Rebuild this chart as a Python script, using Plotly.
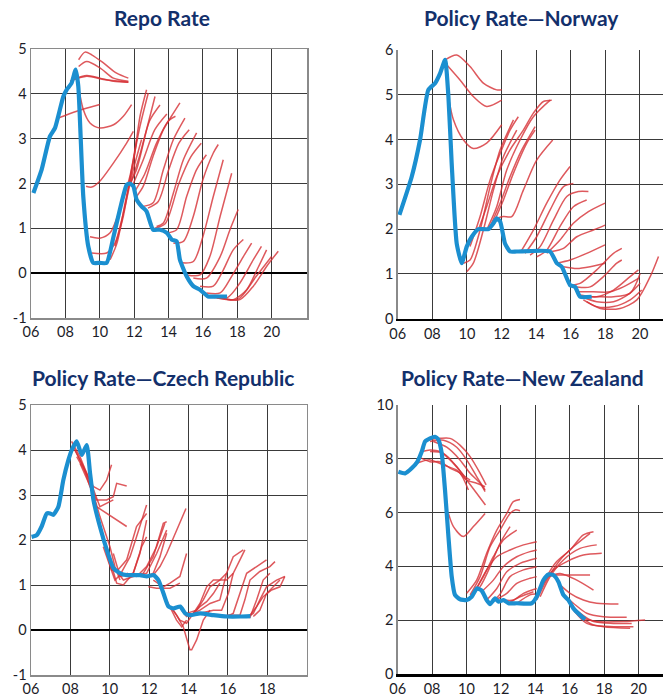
import plotly.graph_objects as go

# ---------------- Repo Rate (Sweden) ----------------
repo_x = [2006.14, 2006.62, 2007.1, 2007.4, 2007.88, 2008.07, 2008.36, 2008.6, 2008.75, 2009.04, 2009.33,
          2009.62, 2010.0, 2010.4, 2010.8, 2011.17, 2011.56, 2011.75, 2011.95, 2012.14, 2012.43, 2012.72,
          2013.1, 2013.5, 2013.9, 2014.18, 2014.47, 2014.66, 2015.05, 2015.44, 2015.83, 2016.3, 2016.8, 2017.4]
repo_y = [1.79, 2.31, 3.05, 3.24, 3.94, 4.09, 4.24, 4.54, 4.17, 1.71, 0.6, 0.23, 0.23, 0.23, 0.82, 1.42,
          1.97, 2.0, 1.94, 1.64, 1.49, 1.38, 0.97, 0.97, 0.9, 0.75, 0.71, 0.30, -0.07, -0.29, -0.37, -0.52,
          -0.52, -0.52]
repo_fc_x = [
    [2008.77, 2009.14, 2009.53, 2010.21, 2010.98, 2011.66],
    [2008.77, 2009.24, 2010.01, 2010.79, 2011.66],
    [2008.46, 2009.24, 2010.01, 2010.79, 2011.66],
    [2008.27, 2009.24, 2010.21, 2011.66],
    [2007.59, 2008.66, 2010.0],
    [2008.69, 2009.04, 2009.43, 2010.0, 2010.8, 2011.37, 2011.85],
    [2009.2, 2009.53, 2010.0, 2010.8, 2011.56, 2011.95],
    [2009.43, 2010.0, 2010.6, 2011.17, 2011.75, 2012.14],
    [2009.53, 2010.4, 2010.88, 2011.37, 2011.95, 2012.43],
    [2010.6, 2011.0, 2011.47, 2011.95, 2012.34, 2012.72],
    [2010.88, 2011.37, 2011.85, 2012.34, 2012.82],
    [2011.76, 2012.14, 2012.72, 2013.21],
    [2012.14, 2012.53, 2013.1, 2013.7, 2014.28, 2014.66],
    [2012.53, 2013.1, 2013.7, 2014.28, 2014.95],
    [2013.3, 2013.7, 2014.28, 2014.86, 2015.63],
    [2013.9, 2014.47, 2015.05, 2015.63, 2016.2],
    [2014.28, 2014.86, 2015.44, 2016.0, 2016.6, 2016.89],
    [2014.76, 2015.44, 2016.0, 2016.6, 2017.18],
    [2015.05, 2015.83, 2016.4, 2017.0, 2017.67],
    [2015.44, 2016.2, 2017.0, 2017.57, 2018.05],
    [2015.83, 2016.6, 2017.18, 2017.76, 2018.35],
    [2016.2, 2017.0, 2017.67, 2018.35, 2018.83],
    [2016.4, 2017.4, 2018.15, 2018.93, 2019.4],
    [2016.8, 2017.76, 2018.54, 2019.2, 2019.7],
    [2017.37, 2018.15, 2018.93, 2019.7, 2020.38],
    [2017.0, 2018.05, 2019.1, 2019.99],
    [2011.8, 2012.3, 2012.9, 2013.5],
    [2011.9, 2012.5, 2013.2, 2013.9],
    [2012.0, 2012.6, 2013.3, 2014.0, 2014.4],
    [2012.8, 2013.4, 2014.0, 2014.6, 2015.2],
    [2013.2, 2013.8, 2014.6, 2015.3, 2015.9],
]
repo_fc_y = [
    [4.76, 4.93, 4.87, 4.69, 4.46, 4.35],
    [4.61, 4.72, 4.58, 4.35, 4.28],
    [4.32, 4.41, 4.35, 4.28, 4.26],
    [4.28, 4.39, 4.32, 4.26],
    [3.46, 3.61, 3.76],
    [4.32, 3.65, 3.35, 3.24, 3.31, 3.5, 3.76],
    [1.94, 1.92, 2.05, 2.46, 2.9, 3.16],
    [0.81, 0.78, 0.9, 1.42, 2.16, 2.98],
    [0.45, 0.45, 0.67, 1.34, 2.31, 2.98],
    [0.3, 0.67, 1.56, 2.46, 3.5, 4.09],
    [0.6, 1.27, 2.31, 3.28, 4.02],
    [2.0, 2.31, 3.2, 3.94],
    [1.71, 1.94, 2.61, 3.2, 3.57, 3.8],
    [1.49, 1.57, 2.31, 2.98, 3.46],
    [1.04, 1.12, 1.79, 2.53, 3.13],
    [0.9, 0.97, 1.71, 2.31, 2.64],
    [0.67, 0.71, 1.27, 2.09, 2.68, 2.87],
    [0.23, 0.26, 0.82, 1.71, 2.53],
    [-0.04, -0.04, 0.37, 1.27, 2.23],
    [-0.11, -0.11, 0.37, 0.97, 1.42],
    [-0.29, -0.29, 0.07, 0.52, 0.75],
    [-0.44, -0.44, -0.07, 0.37, 0.67],
    [-0.52, -0.55, -0.22, 0.3, 0.6],
    [-0.55, -0.59, -0.37, 0.12, 0.52],
    [-0.58, -0.59, -0.29, 0.15, 0.49],
    [-0.55, -0.58, -0.07, 0.37],
    [2.0, 2.6, 3.4, 3.75],
    [1.95, 2.5, 3.2, 3.55],
    [1.8, 2.2, 2.9, 3.4, 3.5],
    [1.45, 1.6, 2.3, 2.9, 3.2],
    [1.0, 1.1, 2.0, 2.6, 2.9],
]

# ---------------- Policy Rate - Norway ----------------
nor_x = [2006.1, 2006.81, 2007.29, 2007.77, 2008.16, 2008.45, 2008.74, 2008.93, 2009.12, 2009.41, 2009.7,
         2009.99, 2010.28, 2010.66, 2011.24, 2011.53, 2011.72, 2011.92, 2012.2, 2012.49, 2012.88, 2014.8,
         2015.19, 2015.48, 2015.96, 2016.25, 2016.54, 2017.21]
nor_y = [2.32, 3.17, 3.99, 5.11, 5.26, 5.48, 5.78, 4.96, 3.47, 1.68, 1.24, 1.61, 1.83, 2.0, 2.0, 2.13, 2.24,
         2.17, 1.68, 1.5, 1.5, 1.5, 1.24, 1.16, 0.75, 0.71, 0.49, 0.49]
nor_fc_x = [
    [2008.74, 2009.41, 2010.18, 2010.95, 2011.72, 2012.01],
    [2008.83, 2009.60, 2010.37, 2011.14, 2012.01],
    [2008.93, 2009.22, 2009.80, 2010.37, 2011.14, 2012.01],
    [2009.80, 2010.18, 2010.76, 2011.34, 2011.92, 2012.69],
    [2009.99, 2010.37, 2010.95, 2011.53, 2012.11, 2012.88],
    [2010.18, 2010.76, 2011.34, 2011.92, 2012.49, 2012.97],
    [2010.66, 2011.14, 2011.72, 2012.49, 2013.26, 2013.84, 2014.42, 2014.90],
    [2011.14, 2011.72, 2012.30, 2013.07, 2013.84, 2014.81],
    [2011.34, 2011.92, 2012.49, 2013.17, 2013.94],
    [2011.53, 2012.11, 2012.69, 2013.46, 2013.94],
    [2011.72, 2012.11, 2012.59, 2013.26, 2014.03, 2014.96],
    [2013.17, 2013.84, 2014.61, 2015.38, 2015.96],
    [2013.36, 2014.03, 2014.81, 2015.58, 2016.15],
    [2013.65, 2014.23, 2015.00, 2015.77, 2016.44, 2017.02],
    [2014.03, 2014.61, 2015.38, 2016.15, 2016.92],
    [2014.61, 2015.38, 2016.15, 2017.02, 2017.98],
    [2014.90, 2015.58, 2016.35, 2017.31, 2017.98],
    [2015.19, 2015.96, 2016.92, 2017.98],
    [2015.58, 2016.35, 2017.12, 2017.98],
    [2015.96, 2016.54, 2017.50, 2018.47, 2018.95],
    [2016.35, 2017.12, 2017.89, 2018.66, 2018.95],
    [2016.54, 2017.50, 2018.47, 2019.43, 2019.91],
    [2016.64, 2017.50, 2018.47, 2019.43, 2020.01],
    [2016.73, 2017.50, 2018.47, 2019.43, 2020.10],
    [2016.92, 2017.70, 2018.85, 2019.82, 2020.59, 2021.07],
    [2016.44, 2017.31, 2018.27, 2019.04, 2019.91],
    [2016.73, 2017.50, 2018.47, 2019.43, 2020.01],
]
nor_fc_y = [
    [5.78, 5.89, 5.63, 5.26, 5.11, 5.11],
    [5.67, 5.33, 4.96, 4.74, 4.88],
    [4.96, 4.44, 3.99, 3.80, 3.92, 4.33],
    [1.24, 1.31, 1.98, 2.95, 3.77, 4.44],
    [1.05, 1.24, 1.98, 2.87, 3.62, 4.21],
    [1.61, 2.28, 3.10, 3.69, 4.21, 4.51],
    [1.98, 2.50, 3.17, 3.77, 4.21, 4.59, 4.85, 4.88],
    [1.98, 2.50, 3.32, 3.99, 4.51, 4.88],
    [2.06, 2.58, 3.17, 3.77, 4.29],
    [2.13, 2.65, 3.25, 3.92, 4.21],
    [2.24, 2.28, 2.28, 2.87, 3.54, 3.99],
    [1.53, 1.98, 2.58, 3.10, 3.40],
    [1.46, 1.83, 2.43, 2.95, 3.02],
    [1.42, 1.61, 2.20, 2.73, 2.84, 2.84],
    [1.38, 1.53, 2.06, 2.50, 2.65],
    [1.46, 1.76, 2.13, 2.39, 2.58],
    [1.50, 1.57, 1.83, 1.98, 2.09],
    [1.24, 1.31, 1.46, 1.65],
    [1.16, 1.12, 1.16, 1.24],
    [0.75, 0.79, 1.09, 1.46, 1.57],
    [0.71, 0.71, 0.94, 1.24, 1.31],
    [0.53, 0.49, 0.64, 0.94, 1.09],
    [0.49, 0.38, 0.38, 0.57, 0.79],
    [0.42, 0.27, 0.27, 0.42, 0.64],
    [0.38, 0.23, 0.23, 0.42, 0.94, 1.39],
    [0.60, 0.60, 0.60, 0.71, 0.90],
    [0.49, 0.49, 0.49, 0.57, 1.01],
]

# ---------------- Policy Rate - Czech Republic ----------------
cze_x = [2006.03, 2006.29, 2006.54, 2006.8, 2006.97, 2007.13, 2007.39, 2007.64, 2007.9, 2008.07, 2008.32,
         2008.58, 2008.83, 2009.0, 2009.17, 2009.5, 2009.85, 2010.19, 2010.53, 2010.86, 2011.54, 2011.88,
         2012.22, 2012.47, 2012.73, 2012.98, 2013.24, 2013.58, 2013.83, 2014.08, 2014.59, 2015.27, 2015.95,
         2016.63, 2017.14]
cze_y = [2.07, 2.11, 2.30, 2.59, 2.59, 2.56, 2.74, 3.33, 3.78, 4.0, 4.19, 3.89, 4.11, 3.48, 2.89, 2.3, 1.78,
         1.37, 1.26, 1.22, 1.22, 1.19, 1.22, 1.11, 0.81, 0.52, 0.48, 0.52, 0.37, 0.33, 0.37, 0.33, 0.30,
         0.30, 0.31]
cze_fc_x = [
    [2008.06, 2008.49, 2008.83, 2009.16, 2009.50, 2009.84, 2010.09],
    [2008.15, 2008.66, 2008.99, 2009.33, 2009.84, 2010.18, 2010.35, 2010.86],
    [2008.23, 2008.83, 2009.33, 2009.84, 2010.35, 2010.86],
    [2008.32, 2008.99, 2009.50, 2009.84, 2010.18],
    [2008.49, 2009.16, 2009.50, 2010.01, 2010.26, 2010.52],
    [2009.67, 2010.01, 2010.26, 2010.52, 2011.03, 2011.36, 2011.62, 2011.87],
    [2009.84, 2010.09, 2010.35, 2010.86, 2011.36, 2011.87],
    [2010.01, 2010.35, 2010.69, 2011.19, 2011.53, 2011.87],
    [2010.18, 2010.52, 2011.19, 2011.62, 2011.87],
    [2010.18, 2010.69, 2011.19, 2011.70, 2012.21, 2012.72, 2012.89],
    [2010.86, 2011.36, 2011.87, 2012.38, 2012.80],
    [2011.53, 2011.87, 2012.38, 2012.72, 2012.89],
    [2011.87, 2012.21, 2012.55, 2012.89],
    [2012.21, 2012.55, 2012.89, 2013.39, 2013.87],
    [2012.21, 2012.72, 2013.06, 2013.56, 2013.90],
    [2011.96, 2012.38, 2013.06, 2013.56],
    [2012.72, 2013.06, 2013.39, 2013.65, 2013.90],
    [2013.06, 2013.39, 2013.73, 2014.07, 2014.16, 2014.41, 2014.75, 2015.09],
    [2013.23, 2013.56, 2013.90, 2014.24, 2014.58, 2014.92, 2015.26, 2015.59],
    [2013.65, 2013.90, 2014.24, 2014.58, 2014.92, 2015.26, 2015.93, 2016.27, 2016.61, 2016.86],
    [2013.90, 2014.41, 2014.75, 2015.09, 2015.59, 2015.93],
    [2014.07, 2014.58, 2015.09, 2015.59, 2015.93, 2016.27, 2016.78],
    [2014.58, 2015.26, 2015.68, 2016.02, 2016.27],
    [2015.26, 2015.93, 2016.27, 2016.61, 2016.95, 2017.46, 2017.96],
    [2015.93, 2016.61, 2016.86, 2017.12, 2017.62, 2018.13, 2018.39],
    [2016.61, 2017.12, 2017.46, 2017.79, 2018.13],
    [2016.95, 2017.29, 2017.62, 2017.96, 2018.47, 2018.89],
    [2017.12, 2017.46, 2017.79, 2018.22, 2018.64, 2018.89],
    [2017.29, 2017.62, 2017.96, 2018.30, 2018.64],
]
cze_fc_y = [
    [4.19, 3.85, 3.48, 3.19, 3.11, 3.33, 3.67],
    [4.07, 3.63, 3.19, 2.89, 2.89, 2.96, 3.26, 3.20],
    [4.00, 3.48, 2.74, 2.59, 2.44, 2.30],
    [3.85, 3.33, 2.74, 2.81, 2.89],
    [3.70, 3.04, 2.52, 1.85, 1.41, 1.11],
    [1.85, 1.41, 1.11, 1.22, 1.63, 2.07, 2.44, 2.78],
    [1.70, 1.33, 1.30, 1.56, 2.30, 2.59],
    [1.56, 1.04, 1.00, 1.26, 1.70, 2.44],
    [1.70, 1.19, 1.26, 1.85, 2.07],
    [1.41, 1.11, 1.19, 1.26, 1.63, 2.37, 2.41],
    [1.26, 1.19, 1.41, 1.85, 2.37],
    [1.22, 1.26, 1.70, 2.07, 2.22],
    [1.19, 1.26, 1.63, 2.15],
    [1.22, 1.41, 1.70, 2.22, 2.70],
    [1.11, 0.96, 1.04, 1.19, 1.70],
    [0.96, 0.93, 0.93, 1.04],
    [0.81, 0.52, 0.22, 0.07, 0.22],
    [0.52, 0.33, 0.07, -0.44, -0.44, -0.22, 0.22, 0.44],
    [0.44, 0.22, 0.15, 0.37, 0.52, 0.63, 0.81, 1.04],
    [0.44, 0.30, 0.37, 0.59, 0.96, 1.11, 1.11, 1.26, 1.56, 1.78],
    [0.37, 0.44, 0.67, 0.96, 1.11, 1.26],
    [0.33, 0.44, 0.59, 0.67, 1.26, 1.63, 1.78],
    [0.37, 0.44, 0.44, 0.81, 1.26],
    [0.33, 0.30, 0.37, 0.81, 1.26, 1.41, 1.56],
    [0.33, 0.33, 0.67, 1.11, 1.30, 1.41, 1.52],
    [0.30, 0.28, 0.67, 1.11, 1.26],
    [0.28, 0.37, 0.67, 0.96, 1.11, 1.19],
    [0.33, 0.52, 0.74, 0.89, 0.96, 1.19],
    [0.30, 0.44, 0.81, 0.96, 1.11],
]

# ---------------- Policy Rate - New Zealand ----------------
nz_x = [2006.04, 2006.43, 2006.81, 2007.14, 2007.4, 2007.59, 2007.88, 2008.17, 2008.36, 2008.56, 2008.75,
        2008.95, 2009.14, 2009.33, 2009.62, 2010.01, 2010.3, 2010.6, 2010.88, 2011.17, 2011.37, 2011.66,
        2011.86, 2012.15, 2012.44, 2012.92, 2013.79, 2014.08, 2014.47, 2014.76, 2015.05, 2015.34, 2015.63,
        2015.92, 2016.21, 2016.6, 2016.89]
nz_y = [7.52, 7.46, 7.65, 7.89, 8.27, 8.64, 8.76, 8.82, 8.72, 8.2, 6.84, 5.1, 3.62, 2.94, 2.78, 2.75, 2.87,
        3.18, 3.1, 2.75, 2.6, 2.81, 2.69, 2.75, 2.63, 2.63, 2.63, 2.87, 3.49, 3.7, 3.68, 3.43, 2.94, 2.75,
        2.44, 2.19, 2.03]
nz_fc_x = [
    [2007.69, 2008.46, 2009.04, 2009.62, 2010.21, 2010.79, 2011.14],
    [2007.88, 2008.66, 2009.43, 2010.01, 2010.59, 2011.08],
    [2008.07, 2008.85, 2009.62, 2010.21, 2010.79, 2011.08],
    [2007.88, 2008.66, 2009.43, 2010.01, 2010.59, 2011.10],
    [2007.40, 2007.88, 2008.46, 2009.24, 2009.91, 2010.21],
    [2007.10, 2007.88, 2008.66, 2009.43, 2010.01, 2010.59, 2011.08],
    [2007.20, 2007.88, 2008.46, 2009.04, 2009.62, 2010.11],
    [2008.95, 2009.24, 2009.82, 2010.40, 2011.08],
    [2010.01, 2010.59, 2011.17, 2011.76, 2012.34, 2012.72, 2013.11],
    [2010.21, 2010.79, 2011.37, 2011.95, 2012.53, 2012.82, 2013.11],
    [2010.21, 2010.79, 2011.37, 2011.95, 2012.53],
    [2010.40, 2010.98, 2011.56, 2012.14, 2012.92],
    [2010.59, 2011.17, 2011.76, 2012.53, 2013.31, 2014.08],
    [2010.88, 2011.56, 2012.14, 2012.92, 2013.69, 2014.08],
    [2011.17, 2011.76, 2012.34, 2013.11, 2014.08],
    [2011.37, 2011.95, 2012.53, 2013.31, 2014.08],
    [2011.66, 2012.34, 2012.92, 2013.69, 2014.08],
    [2012.14, 2012.72, 2013.31, 2014.08],
    [2012.43, 2013.11, 2013.89],
    [2012.92, 2013.69, 2013.98],
    [2014.08, 2014.66, 2015.24, 2016.02, 2016.79, 2017.38],
    [2014.08, 2014.66, 2015.44, 2016.21, 2017.18],
    [2014.28, 2014.86, 2015.63, 2016.60, 2017.57],
    [2014.47, 2015.05, 2015.83, 2016.79, 2017.86],
    [2015.05, 2016.02, 2017.18],
    [2014.76, 2015.44, 2016.41, 2017.38],
    [2015.34, 2016.02, 2016.79, 2017.57, 2018.83],
    [2015.63, 2016.21, 2016.99, 2017.96, 2019.31],
    [2015.92, 2016.60, 2017.38, 2018.54, 2019.60],
    [2016.21, 2016.99, 2017.96, 2019.51],
    [2016.60, 2017.38, 2018.54, 2019.70],
    [2016.79, 2017.57, 2019.12, 2020.38],
]
nz_fc_y = [
    [8.69, 8.76, 8.76, 8.51, 8.08, 7.46, 7.03],
    [8.64, 8.69, 8.43, 7.96, 7.34, 6.84],
    [8.64, 8.43, 7.96, 7.46, 7.09, 6.78],
    [8.27, 8.20, 7.71, 7.21, 6.72, 6.28],
    [8.27, 8.33, 8.27, 7.83, 7.34, 7.21],
    [7.83, 7.96, 7.77, 7.58, 7.21, 7.09, 6.96],
    [8.08, 7.89, 7.89, 7.65, 7.46, 6.84],
    [5.97, 5.48, 5.11, 5.48, 5.97],
    [3.00, 3.49, 4.49, 5.35, 5.97, 6.41, 6.49],
    [2.94, 3.62, 4.73, 5.35, 5.97, 6.10, 6.07],
    [2.87, 3.25, 3.99, 4.86, 5.48],
    [3.00, 3.62, 4.36, 4.98, 5.35],
    [3.18, 3.87, 4.36, 4.61, 4.80, 4.92],
    [3.06, 3.49, 3.99, 4.36, 4.55, 4.61],
    [2.75, 3.18, 3.80, 4.11, 4.30],
    [2.60, 2.97, 3.62, 3.87, 3.99],
    [2.75, 3.00, 3.37, 3.56, 3.62],
    [2.75, 2.75, 3.00, 3.18],
    [2.63, 2.87, 3.06],
    [2.63, 2.94, 2.97],
    [2.87, 3.62, 4.18, 4.61, 5.17, 5.29],
    [2.75, 3.49, 4.24, 4.73, 5.23],
    [2.87, 3.62, 4.24, 4.67, 4.80],
    [3.37, 3.87, 4.18, 4.42, 4.49],
    [3.68, 3.68, 3.68],
    [3.62, 3.74, 3.49, 3.12],
    [3.37, 3.00, 2.75, 2.63, 2.60],
    [2.94, 2.63, 2.26, 2.13, 2.11],
    [2.69, 2.26, 1.95, 1.88, 1.88],
    [2.38, 1.88, 1.76, 1.70],
    [2.13, 1.82, 1.76, 1.76],
    [2.07, 1.95, 1.95, 2.01],
]

titles = ["Repo Rate", "Policy Rate\u2014Norway", "Policy Rate\u2014Czech Republic", "Policy Rate\u2014New Zealand"]
year_ticks = [2006, 2008, 2010, 2012, 2014, 2016, 2018, 2020]
year_labels = ["06", "08", "10", "12", "14", "16", "18", "20"]

W, H = 663, 698
RED = "rgba(214,48,52,0.8)"
BLUE = "#1b8fd0"
GRID = "#3a3a3a"
FRAME = "#8a8a8a"
TXT = "#1c1c28"
FONT = "Lato"

panels = [
    dict(fc=(repo_fc_x, repo_fc_y), act=(repo_x, repo_y), xpx=(31, 307), ypx=(49, 318),
         xr=[2006, 2022.05], yr=[-1, 5], yt=list(range(-1, 6)), xt=8, zero=True, mirror=True, spline=True),
    dict(fc=(nor_fc_x, nor_fc_y), act=(nor_x, nor_y), xpx=(397.7, 663), ypx=(50, 318.7),
         xr=[2006, 2021.33], yr=[0, 6], yt=list(range(0, 7)), xt=8, zero=False, mirror=False, spline=True),
    dict(fc=(cze_fc_x, cze_fc_y), act=(cze_x, cze_y), xpx=(31, 306.7), ypx=(405, 675),
         xr=[2006, 2020], yr=[-1, 5], yt=list(range(-1, 6)), xt=7, zero=True, mirror=True, spline=False),
    dict(fc=(nz_fc_x, nz_fc_y), act=(nz_x, nz_y), xpx=(397.7, 663), ypx=(405, 674),
         xr=[2006, 2021.42], yr=[0, 10], yt=list(range(0, 11, 2)), xt=8, zero=False, mirror=False, spline=True),
]

fig = go.Figure()
layout = dict(width=W, height=H, margin=dict(l=0, r=0, t=0, b=0, pad=0), paper_bgcolor="white",
              plot_bgcolor="white", showlegend=False, font=dict(family=FONT, color=TXT, size=14))

for i, p in enumerate(panels):
    n = "" if i == 0 else str(i + 1)
    xa, ya = "x" + n, "y" + n
    fxs, fys = p["fc"]
    for fx, fy in zip(fxs, fys):
        fig.add_trace(go.Scatter(x=fx, y=fy, mode="lines", xaxis=xa, yaxis=ya, hoverinfo="skip",
                                 line=dict(color=RED, width=1.5,
                                           shape="spline" if p["spline"] else "linear", smoothing=0.8)))
    ax_, ay_ = p["act"]
    fig.add_trace(go.Scatter(x=ax_, y=ay_, mode="lines", xaxis=xa, yaxis=ya,
                             line=dict(color=BLUE, width=4.2, shape="spline", smoothing=0.5)))
    x0, x1 = p["xpx"]
    y0, y1 = p["ypx"]
    bottom_black = not p["zero"]
    layout["xaxis" + n] = dict(domain=[x0 / W, min(1.0, x1 / W)], range=p["xr"], anchor=ya,
                               tickvals=year_ticks[:p["xt"]], ticktext=year_labels[:p["xt"]],
                               showgrid=True, gridcolor=GRID, gridwidth=1, zeroline=False,
                               showline=True, linecolor="black" if bottom_black else FRAME,
                               linewidth=2.5 if bottom_black else 1.5, automargin=False,
                               mirror=p["mirror"], ticks="", tickfont=dict(size=14.5, color=TXT),
                               fixedrange=True)
    layout["yaxis" + n] = dict(domain=[1 - y1 / H, 1 - y0 / H], range=p["yr"], anchor=xa,
                               tickvals=p["yt"], ticktext=[str(v) for v in p["yt"]],
                               showgrid=True, gridcolor=GRID, gridwidth=1, automargin=False,
                               zeroline=p["zero"], zerolinecolor="black", zerolinewidth=2.5,
                               showline=True, linecolor=FRAME, linewidth=1.5, mirror=p["mirror"],
                               ticks="", tickfont=dict(size=14.5, color=TXT), fixedrange=True)

title_pos = [(162, 18), (521, 18), (163, 377), (522, 377)]
anns = []
for t, (tx, ty) in zip(titles, title_pos):
    anns.append(dict(text="<b>" + t + "</b>", x=tx / W, y=1 - ty / H, xref="paper", yref="paper",
                     xanchor="center", yanchor="middle", showarrow=False,
                     font=dict(family=FONT, size=21, color="#13306b")))
layout["annotations"] = anns
fig.update_layout(**layout)
fig.write_html("out.html", config={"displayModeBar": False, "staticPlot": True},
               post_script="document.body.style.margin='0';document.body.style.padding='0';"
                           "document.body.style.overflow='hidden';")
